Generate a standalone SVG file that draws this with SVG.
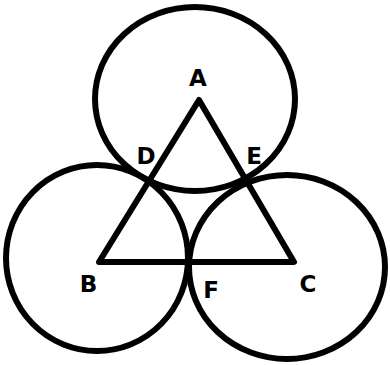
<svg xmlns="http://www.w3.org/2000/svg" width="390" height="365" viewBox="0 0 390 365">
<style>
.c{fill:none;stroke:#000;stroke-width:6}
.t{font-family:"DejaVu Sans","Liberation Sans",sans-serif;font-weight:bold;font-size:23px;fill:#000;text-anchor:middle}
</style>
<rect width="390" height="365" fill="#fff"/>
<g id="circles">
<ellipse id="circleA" class="c" cx="195" cy="99" rx="100" ry="92"/>
<ellipse id="circleB" class="c" cx="97" cy="258" rx="91" ry="93"/>
<ellipse id="circleC" class="c" cx="287" cy="267" rx="98" ry="92"/>
</g>
<g id="connectors">
<polygon class="c" points="99,262 199,100 294,262" stroke-linejoin="round"/>
</g>
<g id="labels">
<g id="A"><text class="t" x="198" y="86">A</text></g>
<g id="D"><text class="t" x="146" y="164">D</text></g>
<g id="E"><text class="t" x="254" y="164">E</text></g>
<g id="B"><text class="t" x="88.5" y="292">B</text></g>
<g id="F"><text class="t" x="211" y="298">F</text></g>
<g id="C"><text class="t" x="308" y="292">C</text></g>
</g>
</svg>
